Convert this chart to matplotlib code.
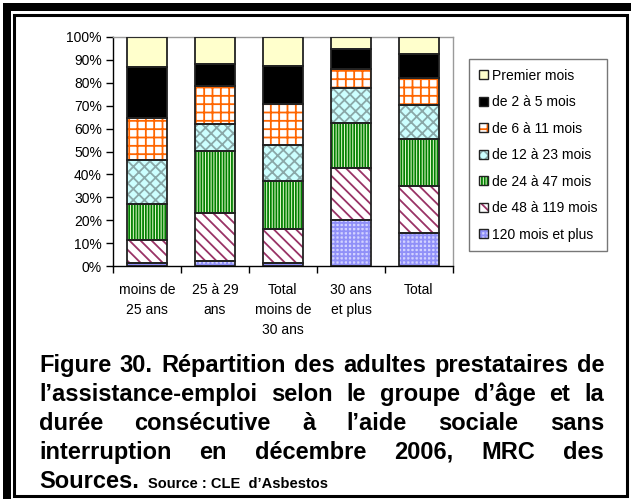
import matplotlib
matplotlib.use("Agg")
import matplotlib.pyplot as plt
from matplotlib.patches import Patch, Rectangle
from matplotlib.legend_handler import HandlerTuple
from matplotlib.ticker import PercentFormatter, FixedLocator, NullFormatter
import numpy as np

plt.rcParams['font.family'] = ['Liberation Sans', 'DejaVu Sans']

# Age groups (x categories)
categories = ["moins de\n25 ans", "25 à 29\nans", "Total\nmoins de\n30 ans", "30 ans\net plus", "Total"]

# Duration classes, stacked from the bottom up (percent of each group)
durations = ["120 mois et plus", "de 48 à 119 mois", "de 24 à 47 mois",
             "de 12 à 23 mois", "de 6 à 11 mois", "de 2 à 5 mois", "Premier mois"]
share_120_plus = [1.2, 2.3, 1.4, 20.0, 14.5]
share_48_119 = [10.1, 20.9, 14.8, 22.9, 20.6]
share_24_47 = [15.9, 27.2, 20.9, 19.7, 20.3]
share_12_23 = [18.9, 11.6, 15.9, 15.1, 15.0]
share_6_11 = [18.5, 16.7, 17.7, 8.2, 11.5]
share_2_5 = [22.1, 9.7, 16.5, 8.7, 10.6]
share_first = [13.3, 11.6, 12.8, 5.4, 7.5]
series = [share_120_plus, share_48_119, share_24_47, share_12_23,
          share_6_11, share_2_5, share_first]

# fill colour, hatch pattern, hatch colour for each duration class
styles = [
    ("#D2D2FF", "++++", "#9090F8"),
    ("white", "\\\\\\", "#993366"),
    ("#F0FFD8", "||||||", "#008000"),
    ("#CCFFFF", "xxx", "#8AA8A8"),
    ("white", "++", "#FF6600"),
    ("black", None, "black"),
    ("#FFFFCC", None, "#FFFFCC"),
]

W, H = 631, 499
fig = plt.figure(figsize=(W / 100, H / 100), dpi=100)
plt.rcParams['hatch.linewidth'] = 1.3

ax = fig.add_axes([113 / W, 1 - 266 / H, (453 - 113) / W, (266 - 37) / H])
x = np.arange(len(categories))
bottom = np.zeros(len(categories))
handles = {}
for name, vals, (fc, hatch, hc) in zip(durations, series, styles):
    v = np.array(vals) / 100.0
    ax.bar(x, v, 0.6, bottom=bottom, color=fc, hatch=hatch, edgecolor=hc,
           linewidth=0, zorder=2)
    ax.bar(x, v, 0.6, bottom=bottom, fill=False, edgecolor="#222222",
           linewidth=1.3, zorder=3)
    bottom += v
    handles[name] = (Patch(facecolor=fc, hatch=hatch, edgecolor=hc, linewidth=0),
                     Patch(fill=False, edgecolor="#222222", linewidth=1.0))

ax.set_xlim(-0.5, len(categories) - 0.5)
ax.set_ylim(0, 1)
ax.yaxis.set_major_locator(FixedLocator(np.linspace(0, 1, 11)))
ax.yaxis.set_major_formatter(PercentFormatter(1.0, decimals=0))
ax.xaxis.set_major_locator(FixedLocator(np.arange(-0.5, len(categories), 1.0)))
ax.xaxis.set_major_formatter(NullFormatter())
ax.xaxis.set_minor_locator(FixedLocator(x))
ax.set_xticklabels(categories, minor=True)
ax.tick_params(axis="x", which="minor", length=0, pad=12, labelsize=10)
ax.tick_params(axis="x", which="major", length=5, width=1, color="black")
ax.tick_params(axis="y", length=5, width=1, labelsize=10, pad=3)
for lab in ax.get_xticklabels(minor=True):
    lab.set_linespacing(1.55)
for s in ("left", "bottom"):
    ax.spines[s].set_color("black")
    ax.spines[s].set_linewidth(1.0)
for s in ("top", "right"):
    ax.spines[s].set_color("#9A9A9A")
    ax.spines[s].set_linewidth(1.0)

order = ["Premier mois", "de 2 à 5 mois", "de 6 à 11 mois", "de 12 à 23 mois",
         "de 24 à 47 mois", "de 48 à 119 mois", "120 mois et plus"]
leg = fig.legend([handles[n] for n in order], order,
                 handler_map={tuple: HandlerTuple(ndivide=1, pad=0)},
                 loc="upper left", bbox_to_anchor=(469 / W, 1 - 59 / H),
                 frameon=True, fancybox=False, edgecolor="#555555",
                 fontsize=10, handlelength=0.65, handleheight=0.65,
                 handletextpad=0.3, labelspacing=0.9, borderpad=0.7,
                 borderaxespad=0)
leg.get_frame().set_linewidth(1.0)

# Double frame around the figure
fig.patches.append(Rectangle((3 / W, 0), 8 / W, 1 - 3 / H, transform=fig.transFigure,
                             facecolor="black", edgecolor="none"))
fig.patches.append(Rectangle((3 / W, 1 - 11 / H), 1 - 3 / W, 8 / H, transform=fig.transFigure,
                             facecolor="black", edgecolor="none"))
fig.patches.append(Rectangle((14 / W, 1 - 496 / H), (627 - 14) / W, (496 - 15) / H,
                             transform=fig.transFigure, fill=False,
                             edgecolor="black", linewidth=2.2))

# Justified caption
caption_lines = [
    "Figure 30. Répartition des adultes prestataires de",
    "l’assistance-emploi selon le groupe d’âge et la",
    "durée consécutive à l’aide sociale sans",
    "interruption en décembre 2006, MRC des",
]
baselines = [372, 401, 430, 459]
left_px, right_px = 39, 604
cap_size = 17
fig.canvas.draw()
renderer = fig.canvas.get_renderer()
for line, yb in zip(caption_lines, baselines):
    words = line.split()
    texts = [fig.text(0, 1 - yb / H, w, fontsize=cap_size, fontweight="bold",
                      va="baseline", ha="left") for w in words]
    widths = [t.get_window_extent(renderer).width for t in texts]
    gap = (right_px - left_px - sum(widths)) / (len(words) - 1)
    xp = left_px
    for t, w in zip(texts, widths):
        t.set_x(xp / W)
        xp += w + gap

last_y = 1 - 488 / H
t1 = fig.text(left_px / W, last_y, "Sources.", fontsize=cap_size, fontweight="bold",
              va="baseline", ha="left")
w1 = t1.get_window_extent(renderer).width
fig.text((left_px + w1 + 9) / W, last_y, "Source : CLE  d’Asbestos", fontsize=10.5,
         fontweight="bold", va="baseline", ha="left")

fig.savefig("out.png", dpi=100)
